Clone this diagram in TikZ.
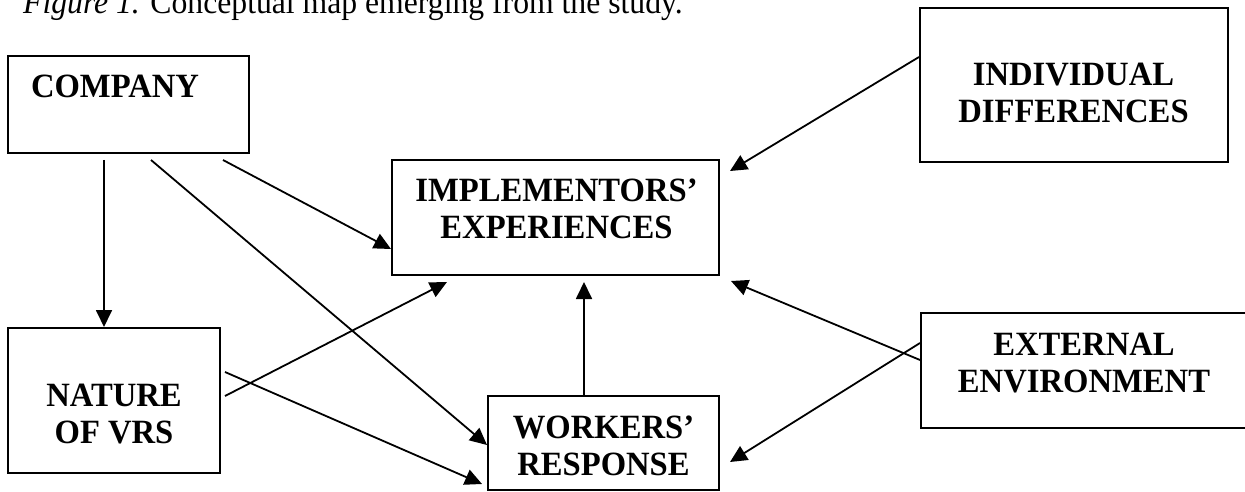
\documentclass[tikz,border=0pt]{standalone}
\usepackage{fontspec}
\setmainfont[FakeStretch=0.96]{Liberation Serif}
\usepackage{tikz}
\usetikzlibrary{arrows.meta,calc}
\tikzstyle{es} = [line width=1.8pt,-{Triangle[length=17pt,width=16pt]}]
\tikzstyle{bx} = [draw,line width=2pt,inner sep=0pt]
\tikzstyle{tx} = [inner sep=0pt,align=center,anchor=base,font=\fontsize{34pt}{37pt}\selectfont\bfseries]

\begin{document}
\begin{tikzpicture}[yscale=-1]
			\clip (0pt,0pt) rectangle (1245pt,492pt);
			\node at (23pt,14pt)[anchor=base west,inner sep=0pt,font=\fontsize{33pt}{37pt}\selectfont] (caption) {\textit{Figure 1.} Conceptual map emerging from the study.};
			% boxes
			\node at (128.5pt,104.5pt)[bx,minimum width=241pt,minimum height=97pt] (company) {};
			\node at (114pt,400.5pt)[bx,minimum width=212pt,minimum height=145pt] (nature) {};
			\node at (555.5pt,217.5pt)[bx,minimum width=327pt,minimum height=115pt] (impl) {};
			\node at (603.5pt,443pt)[bx,minimum width=231pt,minimum height=94pt] (workers) {};
			\node at (1074pt,85pt)[bx,minimum width=308pt,minimum height=154pt] (indiv) {};
			\node at (1086pt,370.5pt)[bx,minimum width=330pt,minimum height=115pt] (extenv) {};
			% texts (placed by the baseline of the last line)
			\node at (115pt,98pt)[tx] (companytext) {COMPANY};
			\node at (114pt,443pt)[tx] (naturetext) {NATURE\\OF VRS};
			\node at (556.5pt,238pt)[tx] (impltext) {IMPLEMENTORS'\\EXPERIENCES};
			\node at (603.5pt,475pt)[tx] (workerstext) {WORKERS'\\RESPONSE};
			\node at (1073.5pt,123pt)[tx] (indivtext) {INDIVIDUAL\\DIFFERENCES};
			\node at (1084pt,392pt)[tx] (extenvtext) {EXTERNAL\\ENVIRONMENT};
			% arrows
			\draw[es] ($(company.south west)+(97pt,6pt)$) -- ($(nature.north west)+(97pt,0pt)$);
			\draw[es] ($(company.south west)+(144pt,6pt)$) -- ($(workers.north west)+(0pt,50pt)$);
			\draw[es] ($(company.south west)+(216pt,6pt)$) -- ($(impl.south west)+(0pt,-27pt)$);
			\draw[es] ($(nature.east)+(4pt,-4.5pt)$) -- ($(impl.south west)+(56pt,6pt)$);
			\draw[es] ($(nature.east)+(4pt,-28.5pt)$) -- ($(workers.south west)+(-5pt,-7pt)$);
			\draw[es] ($(workers.north)+(-19.5pt,0pt)$) -- ($(impl.south)+(28.5pt,6pt)$);
			\draw[es] ($(indiv.west)+(0pt,-28pt)$) -- ($(impl.north east)+(10pt,12pt)$);
			\draw[es] ($(extenv.west)+(0pt,-10.5pt)$) -- ($(impl.south east)+(11pt,5pt)$);
			\draw[es] ($(extenv.west)+(0pt,-27.5pt)$) -- ($(workers.east)+(10pt,19pt)$);
		\end{tikzpicture}
\end{document}
